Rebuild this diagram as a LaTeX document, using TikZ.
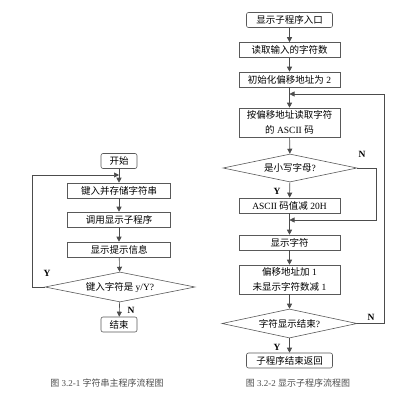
\documentclass[tikz,border=0pt]{standalone}
\usepackage{fontspec}
\setmainfont{Liberation Serif}
\newfontfamily\cjk{Noto Sans CJK SC}
\usetikzlibrary{shapes.geometric,arrows.meta}

\begin{document}
\begin{tikzpicture}
  [x=1pt,y=-1pt,
   line width=0.6pt,
   every node/.style={font=\fontsize{9.5}{14.5}\selectfont},
   proc/.style={draw=black!65,rectangle,minimum width=103pt,
                minimum height=15pt,inner sep=1pt,align=center},
   term/.style={proc,rounded corners=2pt,minimum width=86pt},
   test/.style={draw=black!65,diamond,aspect=5,inner sep=0pt,
                minimum width=150pt,minimum height=30pt},
   flow/.style={draw=black!70,-{Triangle[length=5pt,width=5pt]}},
   tag/.style={font=\fontsize{9.5}{12}\selectfont\bfseries},
   caption/.style={text=black!70,font=\fontsize{9}{11}\selectfont}]
  \useasboundingbox (0,0) rectangle (417,400);
  % Main program
  \node[term,minimum width=36pt] (start) at (119,161) {\cjk 开始};
  \node[proc] (input) at (119,190.5) {\cjk 键入并存储字符串};
  \node[proc] (call) at (119,219.5) {\cjk 调用显示子程序};
  \node[proc] (show) at (119,249.5) {\cjk 显示提示信息};
  \node[test] (ask) at (120,287) {{\cjk 键入字符是} y/Y?};
  \node[term,minimum width=36pt] (stop) at (119,324.5) {\cjk 结束};
  \coordinate (lmerge) at (119,175);
  \draw[flow] (start) -- (input);
  \draw[flow] (input) -- (call);
  \draw[flow] (call) -- (show);
  \draw[flow] (show) -- (ask);
  \draw[flow] (ask) -- (stop);
  \draw[flow] (ask.west) -- ++(-12,0) |- (lmerge);
  \node[tag] (ly) at (47,273) {Y};
  \node[tag] (ln) at (131,310) {N};
  % Display subroutine
  \node[term] (entry) at (289.5,20) {\cjk 显示子程序入口};
  \node[proc,minimum width=101pt] (readnum) at (289.5,50) {\cjk 读取输入的字符数};
  \node[proc,minimum width=101pt] (init) at (289.5,79.5) {{\cjk 初始化偏移地址为} 2};
  \node[proc,minimum width=101pt,minimum height=29pt] (readch) at (289.5,122.5)
    {{\cjk 按偏移地址读取字符}\\{\cjk 的} ASCII {\cjk 码}};
  \node[test,minimum width=134pt,minimum height=28pt] (islower) at (290,168)
    {{\cjk 是小写字母}?};
  \node[proc,minimum width=101pt] (sub) at (289.5,205.5) {ASCII {\cjk 码值减} 20H};
  \node[proc,minimum width=101pt] (disp) at (289.5,242.5) {\cjk 显示字符};
  \node[proc,minimum width=101pt,minimum height=29pt] (update) at (289.5,279.5)
    {{\cjk 偏移地址加} 1\\{\cjk 未显示字符数减} 1};
  \node[test,minimum width=135pt,minimum height=29pt] (isend) at (289.5,323.5)
    {{\cjk 字符显示结束}?};
  \node[term] (ret) at (289.5,360.5) {\cjk 子程序结束返回};
  \coordinate (rloop) at (289.5,94);
  \coordinate (rjoin) at (289.5,220);
  \draw[flow] (entry) -- (readnum);
  \draw[flow] (readnum) -- (init);
  \draw[flow] (init) -- (readch);
  \draw[flow] (readch) -- (islower);
  \draw[flow] (islower) -- (sub);
  \draw[flow] (sub) -- (disp);
  \draw[flow] (disp) -- (update);
  \draw[flow] (update) -- (isend);
  \draw[flow] (isend) -- (ret);
  \draw[flow] (islower.east) -- ++(19,0) |- (rjoin);
  \draw[flow] (isend.east) -- ++(27,0) |- (rloop);
  \node[tag] (ry1) at (277,191) {Y};
  \node[tag] (rn1) at (362,154) {N};
  \node[tag] (ry2) at (277,347) {Y};
  \node[tag] (rn2) at (371,317) {N};
  % Captions
  \node[caption] (cap1) at (107,383) {{\cjk 图} 3.2-1 {\cjk 字符串主程序流程图}};
  \node[caption] (cap2) at (298,383) {{\cjk 图} 3.2-2 {\cjk 显示子程序流程图}};
\end{tikzpicture}
\end{document}
